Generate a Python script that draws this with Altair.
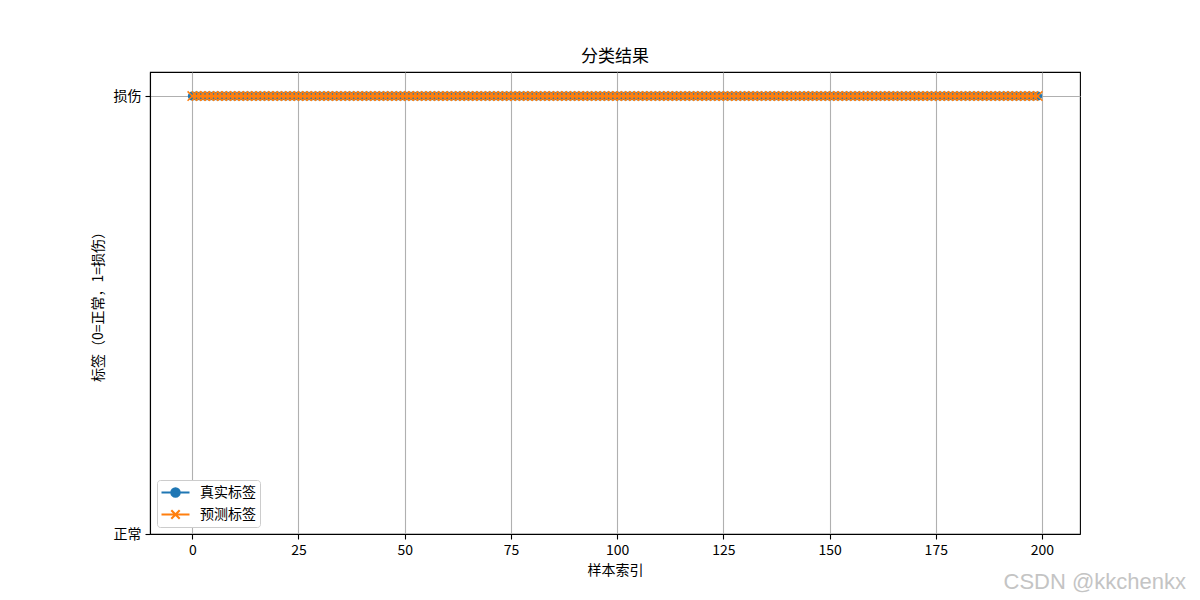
import altair as alt
import pandas as pd

# ---------------- data ----------------
sample_index = list(range(200))
true_labels = [
    1, 1, 1, 1, 1, 1, 1, 1, 1, 1, 1, 1, 1, 1, 1, 1, 1, 1, 1, 1,
    1, 1, 1, 1, 1, 1, 1, 1, 1, 1, 1, 1, 1, 1, 1, 1, 1, 1, 1, 1,
    1, 1, 1, 1, 1, 1, 1, 1, 1, 1, 1, 1, 1, 1, 1, 1, 1, 1, 1, 1,
    1, 1, 1, 1, 1, 1, 1, 1, 1, 1, 1, 1, 1, 1, 1, 1, 1, 1, 1, 1,
    1, 1, 1, 1, 1, 1, 1, 1, 1, 1, 1, 1, 1, 1, 1, 1, 1, 1, 1, 1,
    1, 1, 1, 1, 1, 1, 1, 1, 1, 1, 1, 1, 1, 1, 1, 1, 1, 1, 1, 1,
    1, 1, 1, 1, 1, 1, 1, 1, 1, 1, 1, 1, 1, 1, 1, 1, 1, 1, 1, 1,
    1, 1, 1, 1, 1, 1, 1, 1, 1, 1, 1, 1, 1, 1, 1, 1, 1, 1, 1, 1,
    1, 1, 1, 1, 1, 1, 1, 1, 1, 1, 1, 1, 1, 1, 1, 1, 1, 1, 1, 1,
    1, 1, 1, 1, 1, 1, 1, 1, 1, 1, 1, 1, 1, 1, 1, 1, 1, 1, 1, 1,
]
pred_labels = [
    1, 1, 1, 1, 1, 1, 1, 1, 1, 1, 1, 1, 1, 1, 1, 1, 1, 1, 1, 1,
    1, 1, 1, 1, 1, 1, 1, 1, 1, 1, 1, 1, 1, 1, 1, 1, 1, 1, 1, 1,
    1, 1, 1, 1, 1, 1, 1, 1, 1, 1, 1, 1, 1, 1, 1, 1, 1, 1, 1, 1,
    1, 1, 1, 1, 1, 1, 1, 1, 1, 1, 1, 1, 1, 1, 1, 1, 1, 1, 1, 1,
    1, 1, 1, 1, 1, 1, 1, 1, 1, 1, 1, 1, 1, 1, 1, 1, 1, 1, 1, 1,
    1, 1, 1, 1, 1, 1, 1, 1, 1, 1, 1, 1, 1, 1, 1, 1, 1, 1, 1, 1,
    1, 1, 1, 1, 1, 1, 1, 1, 1, 1, 1, 1, 1, 1, 1, 1, 1, 1, 1, 1,
    1, 1, 1, 1, 1, 1, 1, 1, 1, 1, 1, 1, 1, 1, 1, 1, 1, 1, 1, 1,
    1, 1, 1, 1, 1, 1, 1, 1, 1, 1, 1, 1, 1, 1, 1, 1, 1, 1, 1, 1,
    1, 1, 1, 1, 1, 1, 1, 1, 1, 1, 1, 1, 1, 1, 1, 1, 1, 1, 1, 1,
]
series_names = ["真实标签", "预测标签"]
series_colors = ["#1f77b4", "#ff7f0e"]
x_ticks = [0, 25, 50, 75, 100, 125, 150, 175, 200]
y_ticks = [0, 1]
y_tick_labels = ["正常", "损伤"]
title_text = "分类结果"
x_title = "样本索引"
y_title = "标签（0=正常，1=损伤）"
watermark = "CSDN @kkchenkx"

CJK = "Noto Sans CJK SC"

df = pd.DataFrame({"idx": sample_index,
                   series_names[0]: true_labels,
                   series_names[1]: pred_labels})
long = df.melt(id_vars="idx", var_name="series", value_name="label")

label_expr = " : ".join(
    f"datum.value == {v} ? '{t}'" for v, t in zip(y_ticks[:-1], y_tick_labels[:-1])
) + f" : '{y_tick_labels[-1]}'"

x_enc = alt.X("idx:Q",
              scale=alt.Scale(domain=[-9.95, 208.95], nice=False, zero=False),
              axis=alt.Axis(values=x_ticks, title=x_title, format="d",
                            titlePadding=6))
y_enc = alt.Y("label:Q",
              scale=alt.Scale(domain=[0, 1.055], nice=False, zero=False),
              axis=alt.Axis(values=y_ticks, labelExpr=label_expr, title=y_title,
                            titlePadding=8))

base = alt.Chart(long).encode(x=x_enc, y=y_enc)
true_base = base.transform_filter(alt.datum.series == series_names[0])
pred_base = base.transform_filter(alt.datum.series == series_names[1])

blue_line = true_base.mark_line(strokeWidth=2.1, color=series_colors[0])
blue_pts = true_base.mark_point(shape="circle", filled=True, size=80, opacity=1,
                                color=series_colors[0])
orange_line = pred_base.mark_line(strokeWidth=2.1, color=series_colors[1])
orange_pts = pred_base.mark_point(shape="M-1,-1L1,1M1,-1L-1,1", filled=False,
                                  size=88, strokeWidth=1.5, opacity=1,
                                  color=series_colors[1])

circle_path = ("M-2,0L2,0M0.6,0A0.6,0.6,0,1,1,-0.6,0"
               "A0.6,0.6,0,1,1,0.6,0Z")
x_path = "M-2,0L2,0M-0.6,-0.6L0.6,0.6M-0.6,0.6L0.6,-0.6"

leg = alt.Legend(title=None, orient="bottom-left", offset=7, padding=4,
                 strokeColor="#cccccc", fillColor="#ffffff",
                 cornerRadius=3, symbolSize=196, labelOffset=16, symbolOffset=6,
                 rowPadding=5, labelFontSize=14, labelFont=CJK,
                 labelColor="black", symbolStrokeWidth=2.1)

# legend-only layer: one row per series with no position, so nothing is drawn in the plot
legend_df = pd.DataFrame({"series": series_names, "idx": [None, None], "label": [None, None]})
legend_layer = alt.Chart(legend_df).mark_point(
    filled=True, opacity=1, strokeWidth=2.1
).encode(
    x=x_enc, y=y_enc,
    shape=alt.Shape("series:N", scale=alt.Scale(domain=series_names, range=[circle_path, x_path]), legend=leg),
    fill=alt.Fill("series:N", scale=alt.Scale(domain=series_names, range=series_colors), legend=leg),
    stroke=alt.Stroke("series:N", scale=alt.Scale(domain=series_names, range=series_colors), legend=leg),
)

wm_layer = alt.Chart(alt.Data(values=[{"t": watermark}])).mark_text(
    align="right", baseline="alphabetic", fontSize=22, font="Liberation Sans",
    color="#c4c4c4"
).encode(x=alt.value(1036), y=alt.value(517), text="t:N")

chart = alt.layer(
    blue_line, blue_pts, orange_line, orange_pts, legend_layer, wm_layer
).properties(
    width=930, height=462,
    title=alt.Title(title_text, fontSize=17, font=CJK, fontWeight="normal",
                    color="black", offset=6),
    autosize=alt.AutoSizeParams(type="none"),
    padding={"left": 142, "top": 64, "right": 112, "bottom": 64},
).configure_view(
    stroke="black", strokeWidth=1.1
).configure_axis(
    grid=True, gridColor="#b0b0b0", gridWidth=1.1,
    domainColor="black", domainWidth=1.1,
    tickColor="black", tickWidth=1.1, tickSize=5,
    labelFont=CJK, labelFontSize=14, labelColor="black", labelPadding=4,
    titleFont=CJK, titleFontSize=14, titleFontWeight="normal", titleColor="black",
)

chart.save("out.html", embed_options={"renderer": "svg", "actions": False})
